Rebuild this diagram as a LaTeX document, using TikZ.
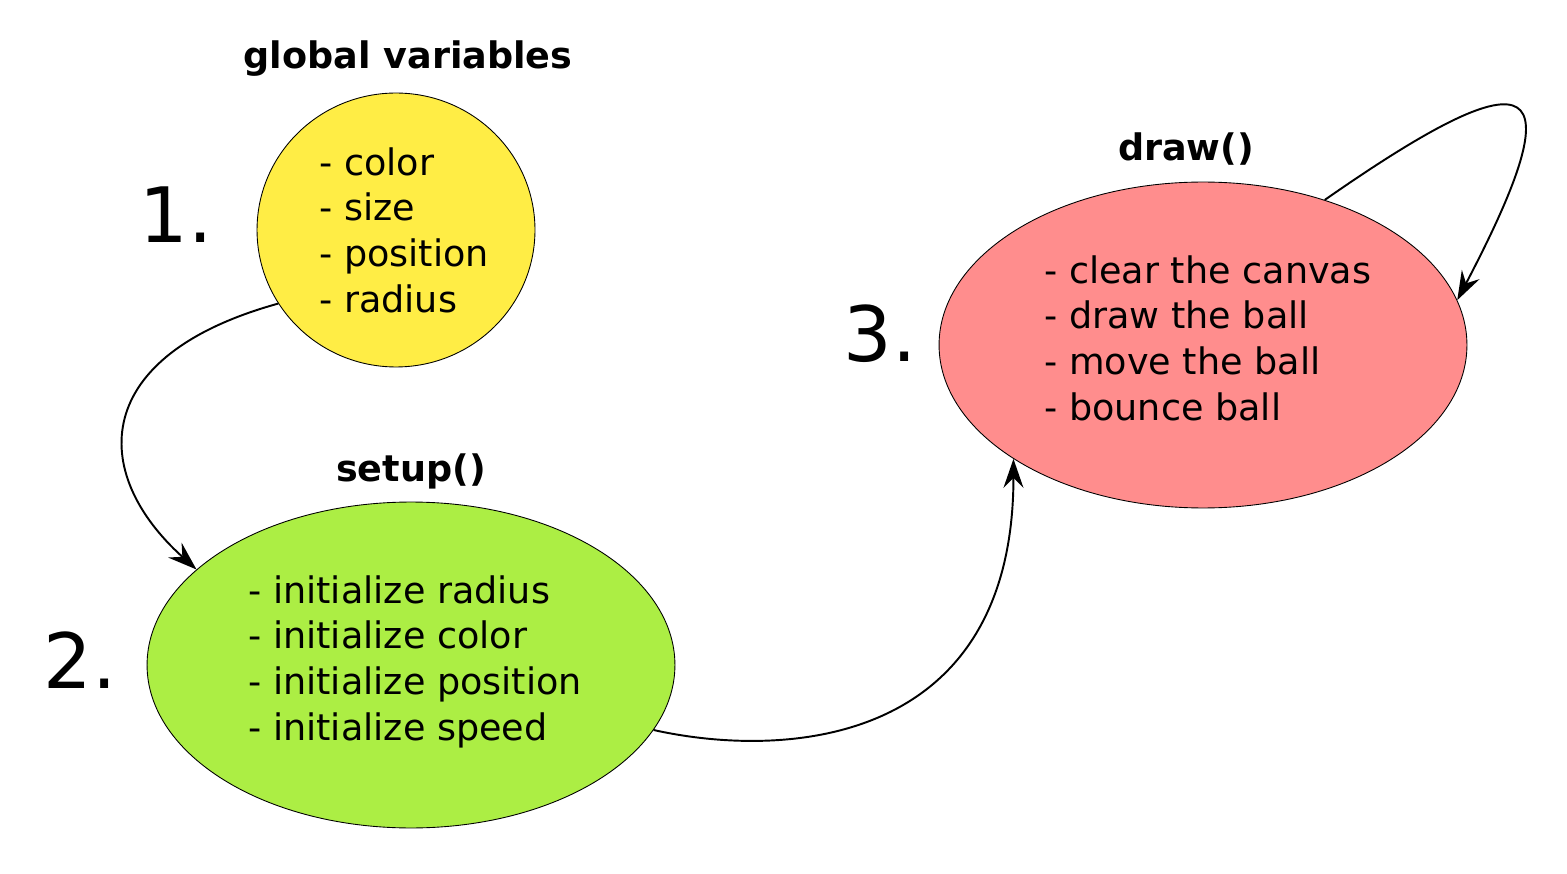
\documentclass[tikz,border=0pt]{standalone}
\usepackage{fontspec}
\setmainfont{DejaVu Sans}
\usetikzlibrary{shapes.geometric,arrows.meta}
\definecolor{varyellow}{RGB}{255,237,69}
\definecolor{setupgreen}{RGB}{172,238,68}
\definecolor{drawred}{RGB}{255,141,141}
\begin{document}
\begin{tikzpicture}[x=0.02cm,y=-0.02cm]
        \tikzset{
            state/.style={ellipse,draw=black,line width=0.5pt,inner sep=0pt},
            listtext/.style={anchor=north west,inner sep=0pt,align=left,
              font=\fontsize{20.8}{26}\selectfont},
            title/.style={anchor=base,inner sep=0pt,
              font=\fontsize{20.8}{26}\selectfont\bfseries},
            num/.style={anchor=base,inner sep=0pt,
              font=\fontsize{43.5}{52}\selectfont},
            flow/.style={line width=1.1pt,-{Stealth[length=0.58cm,width=0.4cm,inset=0.2cm]}}
          }
        \useasboundingbox (0,0) rectangle (1567,874);

        \node[state,fill=varyellow,minimum width=5.56cm,minimum height=5.48cm] (globals) at (396,230) {};
        \node[state,fill=setupgreen,minimum width=10.56cm,minimum height=6.52cm] (setup) at (411,665) {};
        \node[state,fill=drawred,minimum width=10.56cm,minimum height=6.52cm] (drawloop) at (1203,345) {};

        \node[title] (globalstitle) at (408,69) {global variables};
        \node[title] (setuptitle) at (411,481) {setup()};
        \node[title] (drawtitle) at (1186,161) {draw()};

        \node[num] (one) at (176,243) {1.};
        \node[num] (two) at (80,688) {2.};
        \node[num] (three) at (880,362) {3.};

        \node[listtext] (globalslist) at (319,147) {- color\\- size\\- position\\- radius};
        \node[listtext] (setuplist) at (248,575) {- initialize radius\\- initialize color\\- initialize position\\- initialize speed};
        \node[listtext] (drawlist) at (1044,255) {- clear the canvas\\- draw the ball\\- move the ball\\- bounce ball};

        \draw[flow] (globals.212) .. controls +(-188,52) and +(-108,-97) .. (setup.156);
        \draw[flow] (setup.-15) .. controls +(135,30) and +(0,285) .. (drawloop.-149);
        \draw[flow] (drawloop.50) .. controls +(215,-150) and +(118,-225) .. (drawloop.10);
    \end{tikzpicture}
\end{document}
